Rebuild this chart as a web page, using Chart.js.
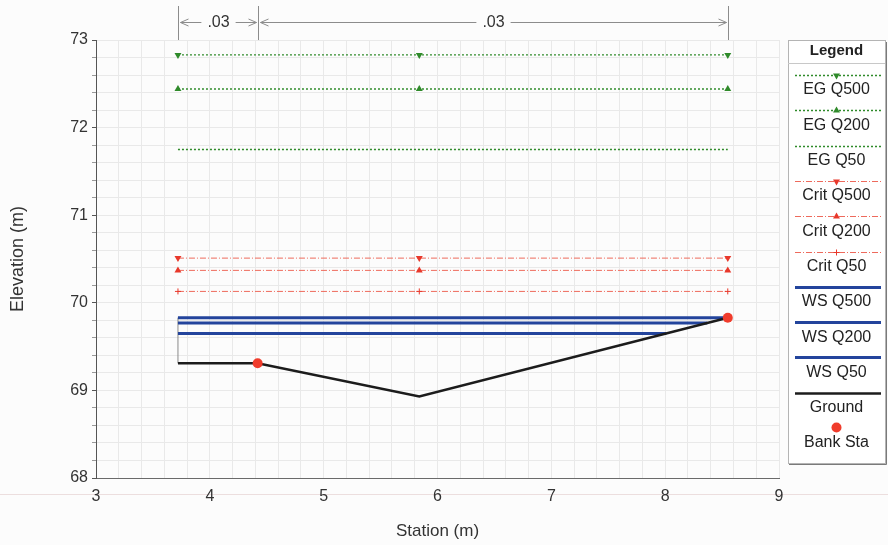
<!DOCTYPE html>
<html>
<head>
<meta charset="utf-8">
<script src="https://cdn.jsdelivr.net/npm/chart.js@4.4.1/dist/chart.umd.min.js"></script>
<style>
  html, body { margin: 0; padding: 0; background: #fcfcfc; }
  #xsChart { display: block; }
</style>
</head>
<body>
<canvas id="xsChart" width="888" height="545"></canvas>
<script>
// cross-section stations where the profile lines carry markers
const sectionSta = [3.72, 5.84, 8.55];
const egQ500 = [72.83, 72.83, 72.83];
const egQ200 = [72.44, 72.44, 72.44];
const egQ50 = [71.75, 71.75, 71.75];
const critQ500 = [70.51, 70.51, 70.51];
const critQ200 = [70.37, 70.37, 70.37];
const critQ50 = [70.13, 70.13, 70.13];

// water surfaces run from the left end until they hit the ground
const wsQ500Sta = [3.72, 8.55];
const wsQ500 = [69.83, 69.83];
const wsQ200Sta = [3.72, 8.37];
const wsQ200 = [69.77, 69.77];
const wsQ50Sta = [3.72, 8.01];
const wsQ50 = [69.65, 69.65];

const groundSta = [3.72, 4.42, 5.84, 8.55];
const groundElev = [69.31, 69.31, 68.93, 69.83];
const wallSta = [3.72, 3.72];
const wallElev = [69.31, 69.83];

const bankSta = [4.42, 8.55];
const bankElev = [69.31, 69.83];

// Manning's n values between breaks, shown above the plot
const nBreaks = [3.72, 4.42, 8.55];
const nValues = ['.03', '.03'];

const xMin = 3, xMax = 9, yMin = 68, yMax = 73;
const gridStep = 0.2;

const FONT = "'Liberation Sans', Arial, sans-serif";
const GREEN = '#2f8a2a';
const RED = '#ee6a5c';
const RED_MARK = '#e8382b';
const BLUE = '#23449c';

function pts(xs, ys) {
  return xs.map((x, i) => ({ x: x, y: ys[i] }));
}

function isWhole(v) {
  return Math.abs(v - Math.round(v)) < 1e-6;
}

const datasets = [
  { label: 'EG Q500', data: pts(sectionSta, egQ500), borderColor: GREEN, borderWidth: 1.4, borderDash: [2, 2],
    pointStyle: 'triangle', pointRotation: 180, pointRadius: 4, pointBackgroundColor: GREEN, pointBorderWidth: 0 },
  { label: 'EG Q200', data: pts(sectionSta, egQ200), borderColor: GREEN, borderWidth: 1.4, borderDash: [2, 2],
    pointStyle: 'triangle', pointRotation: 0, pointRadius: 4, pointBackgroundColor: GREEN, pointBorderWidth: 0 },
  { label: 'EG Q50', data: pts(sectionSta, egQ50), borderColor: GREEN, borderWidth: 1.4, borderDash: [2, 2],
    pointRadius: 0 },
  { label: 'Crit Q500', data: pts(sectionSta, critQ500), borderColor: RED, borderWidth: 1, borderDash: [6, 2, 1, 2],
    pointStyle: 'triangle', pointRotation: 180, pointRadius: 4, pointBackgroundColor: RED_MARK, pointBorderWidth: 0 },
  { label: 'Crit Q200', data: pts(sectionSta, critQ200), borderColor: RED, borderWidth: 1, borderDash: [6, 2, 1, 2],
    pointStyle: 'triangle', pointRotation: 0, pointRadius: 4, pointBackgroundColor: RED_MARK, pointBorderWidth: 0 },
  { label: 'Crit Q50', data: pts(sectionSta, critQ50), borderColor: RED, borderWidth: 1, borderDash: [6, 2, 1, 2],
    pointStyle: 'cross', pointRadius: 3, pointBorderColor: RED_MARK, pointBorderWidth: 1 },
  { label: 'WS Q500', data: pts(wsQ500Sta, wsQ500), borderColor: BLUE, borderWidth: 3, pointRadius: 0 },
  { label: 'WS Q200', data: pts(wsQ200Sta, wsQ200), borderColor: BLUE, borderWidth: 3, pointRadius: 0 },
  { label: 'WS Q50', data: pts(wsQ50Sta, wsQ50), borderColor: BLUE, borderWidth: 3, pointRadius: 0 },
  { label: 'Ground', data: pts(groundSta, groundElev), borderColor: '#1c1c1c', borderWidth: 2.5, pointRadius: 0, order: -1 },
  { label: 'Bank Sta', data: pts(bankSta, bankElev), showLine: false, pointStyle: 'circle', pointRadius: 5,
    pointBackgroundColor: '#f03c2c', pointBorderWidth: 0, order: -2 },
  { label: '', hideInLegend: true, data: pts(wallSta, wallElev), borderColor: '#8a8a8a', borderWidth: 1, pointRadius: 0 }
];

// page background and a faint scan line across the page
const backdrop = {
  id: 'backdrop',
  beforeDraw(chart) {
    const c = chart.ctx;
    c.save();
    c.fillStyle = '#fcfcfc';
    c.fillRect(0, 0, chart.width, chart.height);
    c.strokeStyle = '#ecdede';
    c.lineWidth = 1;
    c.beginPath();
    c.moveTo(0, 494.5);
    c.lineTo(chart.width, 494.5);
    c.stroke();
    c.restore();
  }
};

function chevron(c, tipX, y, dir) {
  // dir = -1 points left, +1 points right
  c.beginPath();
  c.moveTo(tipX - dir * 8, y - 3.5);
  c.lineTo(tipX, y);
  c.lineTo(tipX - dir * 8, y + 3.5);
  c.stroke();
}

// n-value dimension lines above the plot
const nValuePlugin = {
  id: 'nValues',
  afterDraw(chart) {
    const c = chart.ctx;
    const xs = chart.scales.x;
    const top = chart.chartArea.top;
    const lineY = 22.5;
    const px = nBreaks.map(v => Math.round(xs.getPixelForValue(v)) + 0.5);
    c.save();
    c.strokeStyle = '#8c8c8c';
    c.lineWidth = 1;
    px.forEach(x => {
      c.beginPath();
      c.moveTo(x, 6);
      c.lineTo(x, top);
      c.stroke();
    });
    c.font = '16px ' + FONT;
    c.fillStyle = '#333';
    c.textAlign = 'center';
    c.textBaseline = 'middle';
    for (let i = 0; i < nValues.length; i++) {
      const a = px[i] + 2, b = px[i + 1] - 2;
      const mid = (a + b) / 2;
      const half = c.measureText(nValues[i]).width / 2 + 6;
      c.beginPath();
      c.moveTo(a, lineY);
      c.lineTo(mid - half, lineY);
      c.moveTo(mid + half, lineY);
      c.lineTo(b, lineY);
      c.stroke();
      chevron(c, a, lineY, -1);
      chevron(c, b, lineY, 1);
      c.fillText(nValues[i], mid, lineY);
    }
    c.restore();
  }
};

// boxed legend to the right of the plot, lines drawn above the labels
const boxLegend = {
  id: 'boxLegend',
  afterDraw(chart) {
    const c = chart.ctx;
    const left = chart.chartArea.right + 9;
    const right = left + 97;
    const top = 40, bottom = 463;
    const cx = (left + right) / 2;
    c.save();
    c.fillStyle = '#ffffff';
    c.fillRect(left, top, right - left, bottom - top);
    c.strokeStyle = '#b4b4b4';
    c.lineWidth = 1;
    c.strokeRect(left + 0.5, top + 0.5, right - left, bottom - top);
    c.strokeStyle = '#7a7a7a';
    c.beginPath();
    c.moveTo(left + 1, bottom + 1.5);
    c.lineTo(right + 1.5, bottom + 1.5);
    c.lineTo(right + 1.5, top + 2);
    c.stroke();
    c.strokeStyle = '#c8c8c8';
    c.beginPath();
    c.moveTo(left, 63.5);
    c.lineTo(right, 63.5);
    c.stroke();

    c.fillStyle = '#222';
    c.textAlign = 'center';
    c.textBaseline = 'middle';
    c.font = 'bold 15px ' + FONT;
    c.fillText('Legend', cx, 51);

    const entries = chart.data.datasets.filter(d => !d.hideInLegend);
    const x0 = left + 7, x1 = right - 4;
    entries.forEach((d, i) => {
      const ty = 90 + i * 35.3;
      const ly = Math.round(ty - 15) + 0.5;
      if (d.showLine !== false) {
        c.save();
        c.strokeStyle = d.borderColor;
        c.lineWidth = d.borderWidth;
        c.setLineDash(d.borderDash || []);
        c.beginPath();
        c.moveTo(x0, ly);
        c.lineTo(x1, ly);
        c.stroke();
        c.restore();
      }
      if (d.pointRadius > 0) {
        c.save();
        c.fillStyle = d.pointBackgroundColor || d.borderColor;
        c.strokeStyle = d.pointBorderColor || d.borderColor;
        Chart.helpers.drawPoint(c, {
          pointStyle: d.pointStyle,
          rotation: d.pointRotation || 0,
          radius: d.pointRadius,
          borderWidth: d.pointBorderWidth || 0
        }, cx, d.showLine === false ? ly - 1 : ly);
        c.restore();
      }
      c.fillStyle = '#222';
      c.font = '16px ' + FONT;
      c.fillText(d.label, cx, ty);
    });
    c.restore();
  }
};

const ctx = document.getElementById('xsChart').getContext('2d');

const chart = new Chart(ctx, {
  type: 'line',
  data: { datasets: datasets },
  options: {
    responsive: false,
    animation: false,
    events: [],
    layout: { padding: { top: 40, right: 109, left: 0, bottom: 0 } },
    elements: { line: { tension: 0, fill: false } },
    plugins: {
      legend: { display: false },
      tooltip: { enabled: false }
    },
    scales: {
      x: {
        type: 'linear',
        min: xMin,
        max: xMax,
        ticks: {
          stepSize: gridStep,
          autoSkip: false,
          maxRotation: 0,
          padding: 9,
          color: '#333',
          font: { family: FONT, size: 16 },
          callback: v => isWhole(v) ? String(Math.round(v)) : ''
        },
        grid: { color: '#e9e9e9', drawTicks: false },
        border: { color: '#6a6a6a' },
        title: {
          display: true,
          text: 'Station (m)',
          color: '#333',
          font: { family: FONT, size: 17 },
          padding: { top: 0, bottom: 3 }
        },
        afterFit: s => { s.height = 67; }
      },
      y: {
        min: yMin,
        max: yMax,
        ticks: {
          stepSize: gridStep,
          autoSkip: false,
          padding: 4,
          color: '#333',
          font: { family: FONT, size: 16 },
          callback: v => isWhole(v) ? String(Math.round(v)) : ''
        },
        grid: {
          color: '#e9e9e9',
          tickLength: 4,
          tickColor: c => isWhole(c.tick.value) ? '#555' : '#999'
        },
        border: { color: '#555' },
        title: {
          display: true,
          text: 'Elevation (m)',
          color: '#333',
          font: { family: FONT, size: 18 },
          padding: { top: 7, bottom: 0 }
        },
        afterFit: s => { s.width = 96; }
      }
    }
  },
  plugins: [backdrop, nValuePlugin, boxLegend]
});
</script>
</body>
</html>
